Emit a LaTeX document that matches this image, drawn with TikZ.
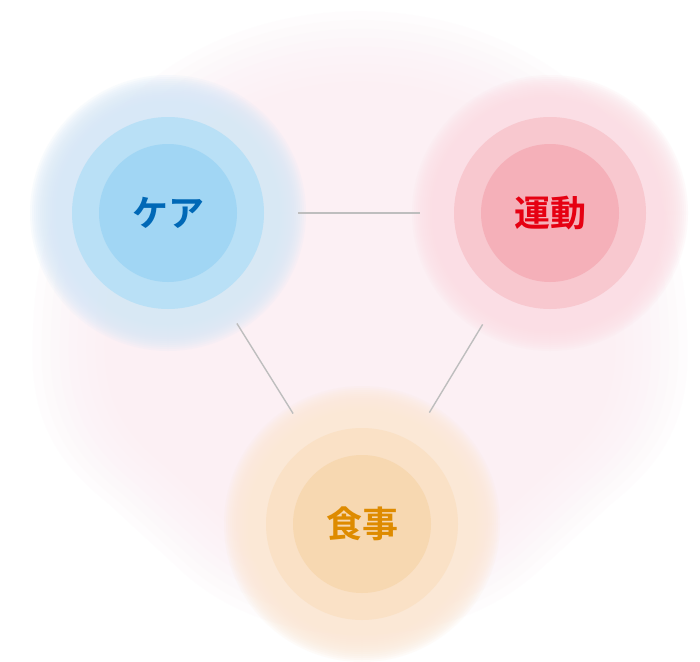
\documentclass[tikz,border=0pt]{standalone}
\usepackage{fontspec}
\usepackage{tikz}
\usetikzlibrary{positioning}
\usepackage{xcolor}
\newfontfamily\jpfont{Noto Sans CJK JP}[BoldFont={Noto Sans CJK JP Bold}]

\definecolor{pinkbg}{RGB}{252,235,242}
\definecolor{careglow}{RGB}{216,232,247}
\definecolor{caremid}{RGB}{185,224,246}
\definecolor{careinner}{RGB}{161,214,244}
\definecolor{caretext}{RGB}{0,104,182}
\definecolor{undoglow}{RGB}{251,222,229}
\definecolor{undomid}{RGB}{248,200,207}
\definecolor{undoinner}{RGB}{245,176,185}
\definecolor{undotext}{RGB}{230,0,18}
\definecolor{mealglow}{RGB}{251,232,214}
\definecolor{mealmid}{RGB}{250,225,198}
\definecolor{mealinner}{RGB}{247,216,177}
\definecolor{mealtext}{RGB}{222,139,0}
\definecolor{linkgray}{RGB}{190,190,190}

\tikzset{
  ring/.style={circle, minimum size=192, inner sep=0pt},
  core/.style={circle, minimum size=138, inner sep=0pt, font=\jpfont\bfseries\fontsize{36}{36}\selectfont},
  link/.style={draw=linkgray, line width=1.4pt, shorten <=34pt, shorten >=34pt}
}

% soft halo: center, colour
\newcommand{\halo}[2]{%
  \foreach \r in {138,136,...,108}
    \fill[#2, opacity=0.16] (#1) circle (\r);
}

\begin{document}
\begin{tikzpicture}[x=1pt, y=-1pt]
	
	\useasboundingbox (0,0) rectangle (700,661);
	\fill[white] (0,0) rectangle (700,661);
	
	%pink background
	\foreach \s in {0.85,0.88,...,1.10}
	  \fill[pinkbg, opacity=0.1, shift={(360,330)}, scale=\s]
	    (-300,0) .. controls (-290,-390) and (290,-390) .. (300,0)
	    .. controls (305,80) and (280,120) .. (230,160)
	    -- (165,220)
	    .. controls (80,300) and (-80,300) .. (-165,220)
	    -- (-230,160)
	    .. controls (-280,120) and (-305,80) .. (-300,0) -- cycle;
	
	%halos
	\halo{168,213}{careglow}
	\halo{550,213}{undoglow}
	\halo{362,524}{mealglow}
	
	%rings
	\node[ring, fill=caremid] (care) at (168,213) {};
	\node[ring, fill=undomid] (undo) at (550,213) {};
	\node[ring, fill=mealmid] (meal) at (362,524) {};
	
	%cores and labels
	\node[core, fill=careinner, text=caretext] at (care) {ケア};
	\node[core, fill=undoinner, text=undotext] at (undo) {運動};
	\node[core, fill=mealinner, text=mealtext] at (meal) {食事};
	
	%links
	\draw[link] (care) -- (undo);
	\draw[link] (care) -- (meal);
	\draw[link] (undo) -- (meal);
	
\end{tikzpicture}
\end{document}
